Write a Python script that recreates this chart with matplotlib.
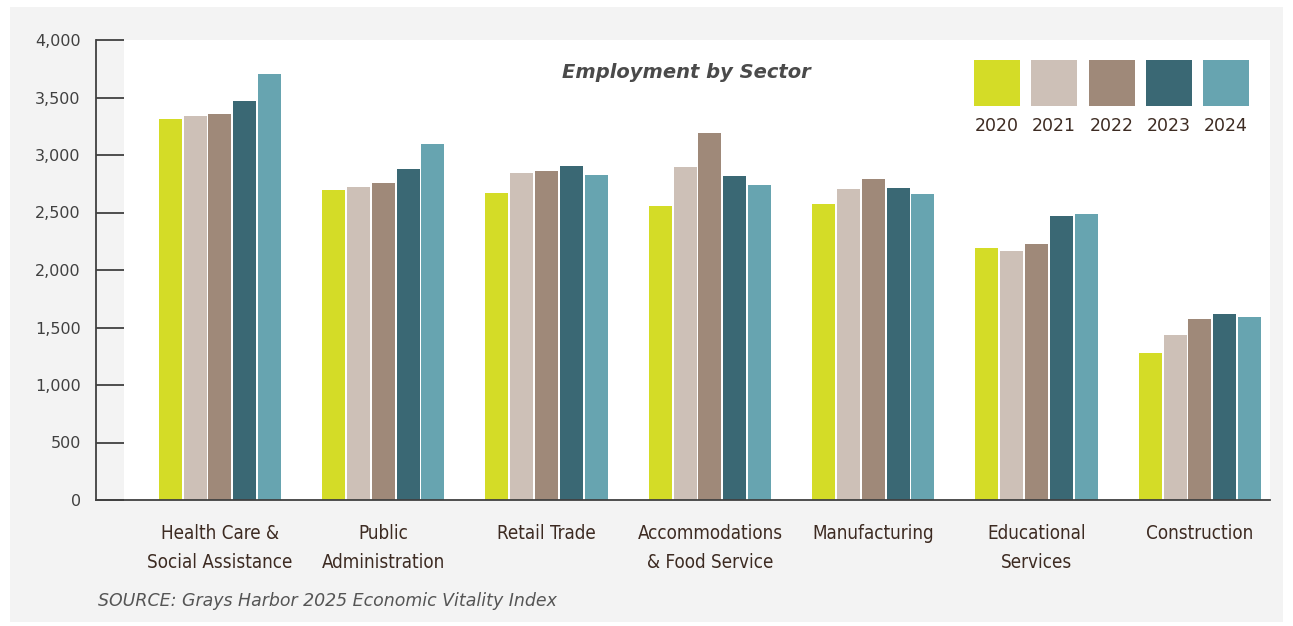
import matplotlib.pyplot as plt
import matplotlib.patches as mpatches
from matplotlib import font_manager
import numpy as np

sectors = ['Health Care &\nSocial Assistance', 'Public\nAdministration', 'Retail Trade',
           'Accommodations\n& Food Service', 'Manufacturing', 'Educational\nServices', 'Construction']
years = ['2020', '2021', '2022', '2023', '2024']
v2020 = [3313, 2696, 2670, 2557, 2574, 2191, 1278]
v2021 = [3339, 2722, 2843, 2896, 2704, 2165, 1435]
v2022 = [3357, 2757, 2861, 3191, 2791, 2226, 1574]
v2023 = [3470, 2878, 2904, 2817, 2713, 2470, 1617]
v2024 = [3704, 3096, 2826, 2739, 2661, 2487, 1591]
series = [v2020, v2021, v2022, v2023, v2024]
colores = ['#d4dc27', '#cdc0b7', '#9f8979', '#3a6874', '#67a4b0']

# buscar una fuente estrecha para las etiquetas del eje x
nombres = [f.name for f in font_manager.fontManager.ttflist]
fuente_x = dict(family='DejaVu Sans', fontsize=12.5)
if 'Liberation Sans Narrow' in nombres:
    fuente_x = dict(family='Liberation Sans Narrow', fontsize=16.5)
elif 'DejaVu Sans Condensed' in nombres:
    fuente_x = dict(family='DejaVu Sans Condensed', fontsize=13.5)
else:
    ruta = font_manager.findfont(font_manager.FontProperties(family='DejaVu Sans', stretch='condensed'))
    if 'Condensed' in ruta:
        fuente_x = dict(family='DejaVu Sans', fontstretch='condensed', fontsize=13.5)

W, H = 1293, 626
fig = plt.figure(figsize=(W/100, H/100), dpi=100)
fig.patch.set_facecolor('white')

# panel gris de fondo
fig.patches.append(mpatches.Rectangle((10/W, 1-622/H), (1283-10)/W, (622-7)/H,
                                      transform=fig.transFigure, facecolor='#f3f3f3',
                                      edgecolor='none', zorder=-5))

ax = fig.add_axes([96/W, 1-500/H, (1270-96)/W, (500-40)/H])
ax.set_zorder(1)
ax.set_facecolor('none')
# area blanca del grafico
ax.add_patch(mpatches.Rectangle(((124-96)/(1270-96), 0), 1-(124-96)/(1270-96), 1,
                                transform=ax.transAxes, facecolor='white',
                                edgecolor='none', zorder=0))

x = np.arange(len(sectors))
paso = 0.152
ancho = 0.141
for i, (vals, c) in enumerate(zip(series, colores)):
    ax.bar(x + (i-2)*paso, vals, width=ancho, color=c, zorder=2)

ax.set_xlim(-0.759, 6.429)
ax.set_ylim(0, 4000)
ax.set_yticks(range(0, 4001, 500))
ax.set_yticklabels([f'{v:,}' for v in range(0, 4001, 500)])
ax.tick_params(axis='y', direction='in', length=20, width=1.3, color='#404040',
               labelsize=11.5, labelcolor='#404040', pad=11)
ax.set_xticks(x)
ax.set_xticklabels(sectors, color='#3d2b22', linespacing=1.65, **fuente_x)
ax.tick_params(axis='x', length=0, pad=17.5)
for s in ['top', 'right']:
    ax.spines[s].set_visible(False)
for s in ['left', 'bottom']:
    ax.spines[s].set_color('#404040')
    ax.spines[s].set_linewidth(1.3)

fig.text(686/W, 1-72/H, 'Employment by Sector', ha='center', va='center',
         fontsize=14, fontweight='bold', style='italic', color='#4a4a4a', zorder=3)

# leyenda manual
lx = [974, 1031, 1089, 1146, 1203]
for xx, c, y in zip(lx, colores, years):
    fig.patches.append(mpatches.Rectangle((xx/W, 1-106/H), 46/W, 46/H,
                                          transform=fig.transFigure, facecolor=c,
                                          edgecolor='none', zorder=3))
    fig.text((xx+23)/W, 1-126/H, y, ha='center', va='center', fontsize=12.5,
             color='#3d2b22', zorder=3)

fig.text(98/W, 1-601/H, 'SOURCE: Grays Harbor 2025 Economic Vitality Index',
         ha='left', va='center', fontsize=12.5, style='italic', color='#555555')

fig.savefig('out.png', dpi=100)
